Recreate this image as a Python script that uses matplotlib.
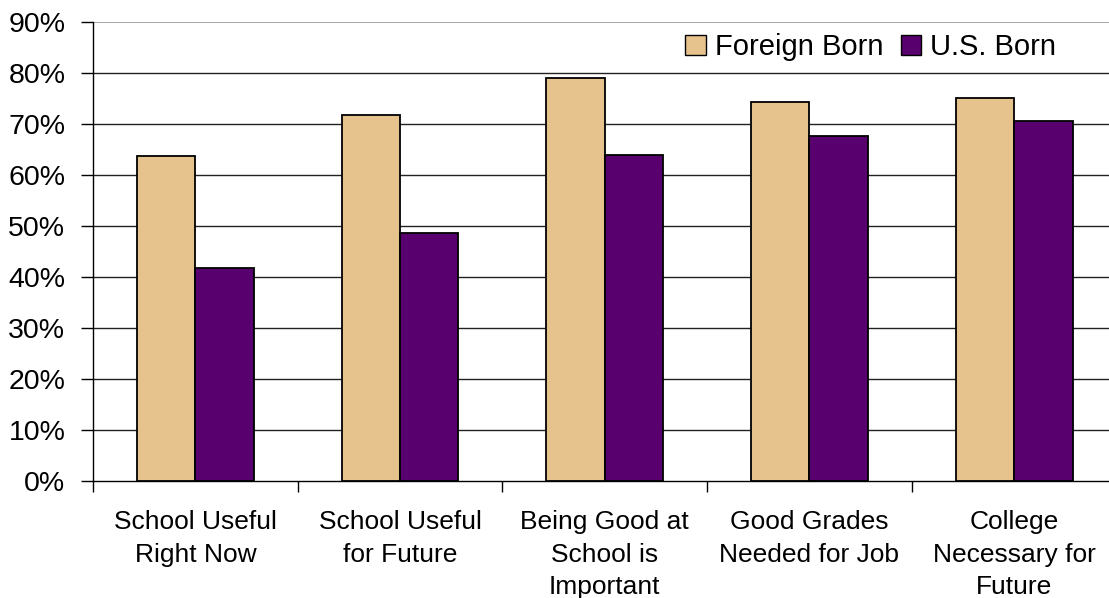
import numpy as np
import matplotlib
matplotlib.use('Agg')
import matplotlib.pyplot as plt
from matplotlib.ticker import PercentFormatter, FixedLocator

# Categorias e percentuais por grupo
categorias = ['School Useful\nRight Now', 'School Useful\nfor Future',
              'Being Good at\nSchool is\nImportant', 'Good Grades\nNeeded for Job',
              'College\nNecessary for\nFuture']
foreign_born = [63.6, 71.7, 78.9, 74.3, 75.0]
us_born = [41.7, 48.6, 63.9, 67.7, 70.5]

cor_foreign = '#E6C38C'
cor_us = '#58006E'

plt.rcParams['font.family'] = ['Liberation Sans', 'DejaVu Sans']

fig = plt.figure(figsize=(11.09, 5.98), dpi=100)
ax = fig.add_axes([0.0839, 0.1957, 0.9229, 0.768])

x = np.arange(len(categorias))
largura = 0.285
ax.bar(x - largura / 2, foreign_born, largura, color=cor_foreign,
       edgecolor='black', linewidth=1.3, label='Foreign Born', zorder=3)
ax.bar(x + largura / 2, us_born, largura, color=cor_us,
       edgecolor='black', linewidth=1.3, label='U.S. Born', zorder=3)

ax.set_xlim(-0.5, len(categorias) - 0.5)
ax.set_ylim(0, 90)
ax.set_yticks(np.arange(0, 91, 10))
ax.yaxis.set_major_formatter(PercentFormatter(decimals=0))

# Linhas de grade horizontais
for v in range(10, 90, 10):
    ax.axhline(v, color='#222222', linewidth=1.0, zorder=1)
ax.axhline(90, color='#999999', linewidth=1.2, zorder=1)

ax.set_xticks(x)
ax.set_xticklabels(categorias, fontsize=19, linespacing=1.45)
ax.xaxis.set_minor_locator(FixedLocator(np.arange(-0.5, len(categorias), 1.0)))
ax.tick_params(axis='x', which='major', length=0, pad=21)
ax.tick_params(axis='x', which='minor', length=8, width=1.0, color='black')
ax.tick_params(axis='y', length=9, width=1.0, pad=11, labelsize=20.5)

for lado in ['top', 'right']:
    ax.spines[lado].set_visible(False)
ax.spines['left'].set_linewidth(1.0)
ax.spines['bottom'].set_linewidth(1.0)

leg = ax.legend(loc='upper right', bbox_to_anchor=(0.952, 1.0), ncol=2,
                frameon=False, fontsize=21, handlelength=0.7, handleheight=0.7,
                handletextpad=0.3, columnspacing=0.6, borderaxespad=0)
for h in leg.legend_handles:
    h.set_edgecolor('black')
    h.set_linewidth(1.0)

plt.savefig('out.png', dpi=100)
plt.close()
